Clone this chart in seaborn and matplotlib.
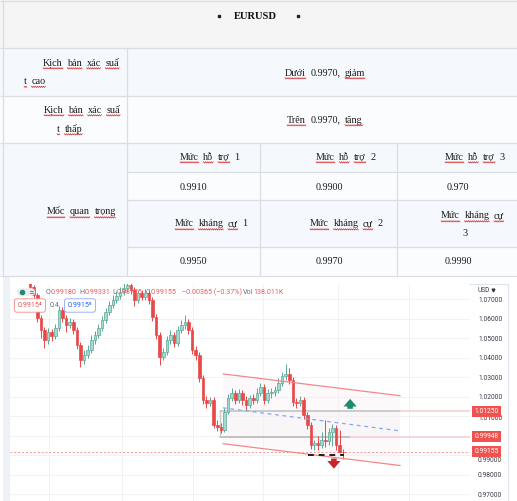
import numpy as np
import pandas as pd
import matplotlib
matplotlib.use("Agg")
import matplotlib.pyplot as plt
import seaborn as sns
from matplotlib.patches import Rectangle, FancyBboxPatch, Polygon

# ------------------------------------------------------------------ data
title_text = "EURUSD"
high_label = ["Kịch bản xác suấ", "t cao"]
high_text = "Dưới 0.9970, giảm"
low_label = ["Kịch bản xác suấ", "t thấp"]
low_text = "Trên 0.9970, tăng"
key_label = "Mốc quan trọng"
support_names = ["Mức hỗ trợ 1", "Mức hỗ trợ 2", "Mức hỗ trợ 3"]
support_values = ["0.9910", "0.9900", "0.970"]
resist_names = ["Mức kháng cự 1", "Mức kháng cự 2", "Mức kháng cự"]
resist_values = ["0.9950", "0.9970", "0.9990"]

opens = [1.0787, 1.0761, 1.0720, 1.0603, 1.0541, 1.0490, 1.0531, 1.0511, 1.0552, 1.0644,
         1.0603, 1.0567, 1.0582, 1.0541, 1.0465, 1.0388, 1.0414, 1.0439, 1.0490, 1.0516,
         1.0552, 1.0593, 1.0634, 1.0669, 1.0695, 1.0715, 1.0736, 1.0756, 1.0772, 1.0746,
         1.0695, 1.0731, 1.0710, 1.0731, 1.0695, 1.0608, 1.0516, 1.0403, 1.0429, 1.0490,
         1.0516, 1.0475, 1.0541, 1.0567, 1.0582, 1.0541, 1.0439, 1.0414, 1.0296, 1.0183,
         1.0168, 1.0183, 1.0056, 1.0045, 1.0030, 1.0122, 1.0194, 1.0219, 1.0183, 1.0219,
         1.0183, 1.0158, 1.0194, 1.0183, 1.0219, 1.0250, 1.0183, 1.0219, 1.0224, 1.0235,
         1.0270, 1.0306, 1.0316, 1.0286, 1.0173, 1.0168, 1.0183, 1.0107, 1.0056, 0.9953,
         0.9963, 0.9953, 0.9979, 0.9974, 1.0020, 1.0040, 0.9953, 0.9918]
closes = [1.0761, 1.0720, 1.0603, 1.0541, 1.0490, 1.0531, 1.0511, 1.0552, 1.0644, 1.0603,
          1.0567, 1.0582, 1.0541, 1.0465, 1.0388, 1.0414, 1.0439, 1.0490, 1.0516, 1.0552,
          1.0593, 1.0634, 1.0669, 1.0695, 1.0715, 1.0736, 1.0756, 1.0772, 1.0746, 1.0695,
          1.0731, 1.0710, 1.0731, 1.0695, 1.0608, 1.0516, 1.0403, 1.0429, 1.0490, 1.0516,
          1.0475, 1.0541, 1.0567, 1.0582, 1.0541, 1.0439, 1.0414, 1.0296, 1.0183, 1.0168,
          1.0183, 1.0056, 1.0045, 1.0030, 1.0122, 1.0194, 1.0219, 1.0183, 1.0219, 1.0183,
          1.0158, 1.0194, 1.0183, 1.0219, 1.0250, 1.0183, 1.0219, 1.0224, 1.0235, 1.0270,
          1.0306, 1.0316, 1.0286, 1.0173, 1.0168, 1.0183, 1.0107, 1.0056, 0.9953, 0.9963,
          0.9953, 0.9979, 0.9974, 1.0020, 1.0040, 0.9953, 0.9918, 0.99155]
highs = [1.0802, 1.0772, 1.0731, 1.0618, 1.0557, 1.0552, 1.0547, 1.0572, 1.0664, 1.0659,
         1.0618, 1.0603, 1.0598, 1.0557, 1.0480, 1.0439, 1.0465, 1.0516, 1.0536, 1.0572,
         1.0613, 1.0654, 1.0690, 1.0720, 1.0741, 1.0761, 1.0782, 1.0792, 1.0782, 1.0761,
         1.0746, 1.0746, 1.0751, 1.0746, 1.0710, 1.0623, 1.0531, 1.0449, 1.0511, 1.0541,
         1.0531, 1.0562, 1.0593, 1.0618, 1.0598, 1.0557, 1.0460, 1.0429, 1.0311, 1.0204,
         1.0199, 1.0199, 1.0081, 1.0066, 1.0142, 1.0214, 1.0245, 1.0235, 1.0240, 1.0235,
         1.0204, 1.0209, 1.0214, 1.0245, 1.0270, 1.0265, 1.0240, 1.0245, 1.0255, 1.0296,
         1.0327, 1.0368, 1.0347, 1.0301, 1.0194, 1.0204, 1.0199, 1.0122, 1.0071, 0.9979,
         0.9999, 1.0020, 1.0081, 1.0040, 1.0061, 1.0056, 1.0030, 0.99331]
lows = [1.0746, 1.0705, 1.0582, 1.0501, 1.0449, 1.0470, 1.0485, 1.0495, 1.0536, 1.0582,
        1.0531, 1.0552, 1.0521, 1.0444, 1.0352, 1.0368, 1.0398, 1.0424, 1.0470, 1.0501,
        1.0536, 1.0577, 1.0618, 1.0654, 1.0680, 1.0700, 1.0720, 1.0736, 1.0726, 1.0664,
        1.0680, 1.0695, 1.0695, 1.0674, 1.0587, 1.0495, 1.0362, 1.0388, 1.0414, 1.0470,
        1.0454, 1.0460, 1.0526, 1.0547, 1.0521, 1.0419, 1.0388, 1.0275, 1.0163, 1.0142,
        1.0153, 1.0040, 1.0025, 1.0015, 1.0020, 1.0112, 1.0178, 1.0163, 1.0168, 1.0158,
        1.0132, 1.0142, 1.0163, 1.0168, 1.0204, 1.0163, 1.0168, 1.0194, 1.0204, 1.0219,
        1.0255, 1.0286, 1.0265, 1.0153, 1.0142, 1.0153, 1.0086, 1.0035, 0.9933, 0.9928,
        0.9928, 0.9938, 0.9943, 0.9953, 0.9948, 0.9928, 0.9912, 0.98775]

price_ticks = [1.07, 1.06, 1.05, 1.04, 1.03, 1.02, 1.01, 1.00, 0.99, 0.98, 0.97]
hidden_tick_labels = [1.00]               # covered by the 0.99948 tag in the reference
shifted_tick_labels = {1.01: -2.0, 0.99: -3.6}   # pushed below the price tags
time_grid = [5.3, 25.6, 45.3, 64.7, 85.6, 105.3]
label_prices = [1.0125, 0.99948, 0.99155]
channel_x = [53.6, 102.8]
channel_upper = [1.0316, 1.0204]
channel_lower = [0.9958, 0.9846]
mid_x = [53.6, 102.2]
mid_line = [1.0142, 1.0025]
range_top, range_bottom = 1.0125, 0.99948
range_x = [52.8, 102.8]
range_bottom_x_end = 88.9
support_dash_x = [77.2, 87.2]
support_dash_y = 0.9898
up_arrow = (88.9, 1.0137, 1.0188)
down_arrow = (84.4, 0.9882, 0.9830)
last_price = 0.99155
ohlc_header = [("O", "0.99180"), ("H", "0.99331"), ("L", "0.98775"), ("C", "0.99155")]
change_text = "−0.00365 (−0.37%)"
volume_text = "138.011K"

# ------------------------------------------------------------------ setup
sns.set_theme(style="white")
plt.rcParams['font.family'] = ['Roboto', 'DejaVu Sans']
SERIF = ['Liberation Serif', 'DejaVu Serif']

W, H = 517, 501
fig = plt.figure(figsize=(W / 100, H / 100), dpi=100)
fig.patch.set_facecolor('white')
bg = fig.add_axes([0, 0, 1, 1])
bg.set_xlim(0, W)
bg.set_ylim(H, 0)
bg.axis('off')
renderer = fig.canvas.get_renderer()

# ------------------------------------------------------------------ table
BLUE_BG = '#f5f8fc'
WHITE_BG = '#fbfcfe'
LINE = '#dadde2'
cells = [
    (0, 0, W, 48, '#f5f5f5'),
    (0, 48, W, 47.5, BLUE_BG),
    (0, 95.5, W, 47.5, WHITE_BG),
    (0, 143, 127, 133, BLUE_BG),
    (127, 143, W - 127, 29, BLUE_BG),
    (127, 172, W - 127, 28, WHITE_BG),
    (127, 200, W - 127, 47, BLUE_BG),
    (127, 247, W - 127, 29, WHITE_BG),
]
for x, y, w, h, c in cells:
    bg.add_patch(Rectangle((x, y), w, h, facecolor=c, edgecolor='none', zorder=0))

hl = [(1, 0, W), (48, 0, W), (95.5, 0, W), (143, 0, W), (172, 127, W),
      (200, 127, W), (247, 127, W), (276, 0, W)]
for y, x0, x1 in hl:
    bg.plot([x0, x1], [y, y], color=LINE, lw=0.9, zorder=1, solid_capstyle='butt')
vl = [(2.5, 0, 276), (127, 48, 276), (260, 143, 276), (397, 143, 276)]
for x, y0, y1 in vl:
    bg.plot([x, x], [y0, y1], color=LINE, lw=0.9, zorder=1, solid_capstyle='butt')


def words(x, y, s, size=7.3, gap=4.5, bold=False, color='#1a1a1a'):
    cx = x
    for w in s.split(' '):
        t = bg.text(cx, y, w, fontsize=size, family=SERIF, color=color,
                    fontweight='bold' if bold else 'normal', ha='left', va='baseline', zorder=3)
        bb = t.get_window_extent(renderer)
        wd = bb.width
        if any(ch.isalpha() for ch in w):
            xs = np.arange(cx, cx + wd + 0.5, 1.0)
            ys = y + 2.2 + (np.arange(len(xs)) % 2) * 1.3
            bg.plot(xs, ys, color='#d62828', lw=0.5, zorder=3)
        cx += wd + gap


# title
bg.plot([219, 298], [16, 16], ls='none', marker='s', ms=1.7, color='#222', zorder=3)
bg.text(255, 16, title_text, fontsize=7.6, family=SERIF, fontweight='bold',
        ha='center', va='center', color='#111', zorder=3)

words(43, 65.5, high_label[0])
words(24, 84, high_label[1])
words(285, 75.5, high_text)
words(44, 112.5, low_label[0])
words(57, 131.5, low_label[1])
words(287, 122.5, low_text)
words(47, 214.5, key_label)

for x, s in zip([180, 316, 445], support_names):
    words(x, 159.5, s)
for x, s in zip([180, 316, 447], support_values):
    words(x, 189.5, s)
for x, s in zip([175, 310], resist_names[:2]):
    words(x, 226.5, s)
words(441, 218.5, resist_names[2])
words(462, 235.5, "3")
for x, s in zip([180, 316, 445], resist_values):
    words(x, 264.5, s)

# chart frame decoration
bg.add_patch(Rectangle((2.5, 276.5), 7.5, H - 276.5, facecolor='#eef1f6', edgecolor='none', zorder=0))
bg.plot([10, 508], [284, 284], color='#e0e3eb', lw=0.8, zorder=1)
bg.plot([10, 10], [284, H], color='#d9dde6', lw=0.8, zorder=1)
bg.plot([508, 508], [284, H], color='#e0e3eb', lw=0.8, zorder=1)

# ------------------------------------------------------------------ chart
ax = fig.add_axes([10 / W, 0, 460 / W, 217 / H])
ax.set_facecolor('white')
ax.set_xlim(-5.56, 122.2)
ax.set_ylim(0.96642, 1.0777)

o = np.array(opens)
c = np.array(closes)
hi = np.array(highs)
lo = np.array(lows)
idx = np.arange(len(c))
up = c >= o
UP_FACE, UP_EDGE = '#a8d8cd', '#58a896'
DN = '#e84848'
ax.vlines(idx, lo, hi, colors=np.where(up, UP_EDGE, DN), lw=0.7, zorder=4)
body = np.maximum(np.abs(c - o), 0.00025)
ax.bar(idx, body, bottom=np.minimum(o, c), width=0.72,
       color=np.where(up, UP_FACE, DN), edgecolor=np.where(up, UP_EDGE, DN),
       linewidth=0.5, zorder=5)

# channel
ax.add_patch(Polygon([(channel_x[0], channel_upper[0]), (channel_x[1], channel_upper[1]),
                      (channel_x[1], channel_lower[1]), (channel_x[0], channel_lower[0])],
                     closed=True, facecolor='#fbe9ee', alpha=0.3, edgecolor='none', zorder=1))
sns.lineplot(x=channel_x, y=channel_upper, ax=ax, color='#f08a8a', lw=0.9, zorder=6, legend=False)
sns.lineplot(x=channel_x, y=channel_lower, ax=ax, color='#f08a8a', lw=0.9, zorder=6, legend=False)
sns.lineplot(x=mid_x, y=mid_line, ax=ax, color='#86a5f2', lw=0.9, zorder=6,
             linestyle=(0, (3, 3)), legend=False)

# range box
ax.add_patch(Rectangle((range_x[0], range_bottom), range_x[1] - range_x[0], range_top - range_bottom,
                       facecolor='#f3f3f3', alpha=0.3, edgecolor='none', zorder=1))
ax.plot(range_x, [range_top, range_top], color='#c8c8c8', lw=1.3, zorder=3)
ax.plot([range_x[0], range_bottom_x_end], [range_bottom, range_bottom], color='#bdbdbd', lw=1.3, zorder=3)
ax.plot([range_x[0], range_x[0]], [range_bottom, range_top], color='#c8c8c8', lw=1.0, zorder=3)
ax.plot([range_x[1], 122.2], [range_top, range_top], color='#f3cfcf', lw=1.1, zorder=3)
ax.plot([range_bottom_x_end, 122.2], [range_bottom, range_bottom], color='#f3cfcf', lw=1.1, zorder=3)

ax.axhline(last_price, color='#f39a9a', lw=0.7, ls=(0, (2, 2)), zorder=3)
ax.plot(support_dash_x, [support_dash_y] * 2, color='#1e1e1e', lw=1.4, ls=(0, (3, 2.5)), zorder=7)

ax.annotate('', xy=(up_arrow[0], up_arrow[2]), xytext=(up_arrow[0], up_arrow[1]),
            arrowprops=dict(arrowstyle='simple,head_length=0.55,head_width=0.95,tail_width=0.4',
                            fc='#1e8a6e', ec='none', shrinkA=0, shrinkB=0, mutation_scale=10),
            zorder=8)
ax.annotate('', xy=(down_arrow[0], down_arrow[2]), xytext=(down_arrow[0], down_arrow[1]),
            arrowprops=dict(arrowstyle='simple,head_length=0.55,head_width=0.95,tail_width=0.4',
                            fc='#c62828', ec='none', shrinkA=0, shrinkB=0, mutation_scale=10),
            zorder=8, annotation_clip=False)

# axes styling
def _hidden(t):
    return any(abs(t - h) < 1e-9 for h in hidden_tick_labels + list(shifted_tick_labels))

ax.set_xticks(time_grid)
ax.set_xticklabels([])
ax.set_yticks(price_ticks)
ax.set_yticklabels([("" if _hidden(t) else f"{t:.5f}") for t in price_ticks])
ax.yaxis.tick_right()
ax.tick_params(axis='both', length=0)
ax.tick_params(axis='y', pad=5.8, labelsize=4.8, labelcolor='#363a45')
ax.grid(True, color='#f0f2f6', lw=0.7)
ax.set_axisbelow(True)
for sp in ax.spines.values():
    sp.set_visible(False)

for t, dy in shifted_tick_labels.items():
    ax.annotate(f"{t:.5f}", xy=(1, t), xycoords=('axes fraction', 'data'), xytext=(5.8, dy),
                textcoords='offset points', ha='left', va='center', fontsize=4.8, color='#363a45',
                annotation_clip=False, zorder=9)
for p in label_prices:
    ax.annotate(f"{p:.5f}", xy=(1, p), xycoords=('axes fraction', 'data'), xytext=(3.2, 0),
                textcoords='offset points', ha='left', va='center', fontsize=4.8, color='white',
                bbox=dict(boxstyle='square,pad=0.3', fc='#ef5350', ec='none'),
                annotation_clip=False, zorder=10)

# ------------------------------------------------------------------ overlay (header of chart)
ov = fig.add_axes([0, 0, 1, 1], zorder=20)
ov.set_xlim(0, W)
ov.set_ylim(H, 0)
ov.axis('off')
ov.patch.set_visible(False)

ov.add_patch(FancyBboxPatch((17, 288.3), 18, 7.4, boxstyle='round,pad=0,rounding_size=3.5',
                            fc='#e9ecf1', ec='none'))
ov.plot([22], [292], marker='o', ms=3, color='#1e8a6e', ls='none')
ov.plot([30, 33], [290.7, 290.7], color='#e05050', lw=0.7)
ov.plot([30, 33], [293.3, 293.3], color='#e05050', lw=0.7)

HDR = 5.1
GRAY = '#6b6f7a'
RED = '#ef5a5a'
for x, (lab, val) in zip([45.7, 79, 112, 146], ohlc_header):
    t = ov.text(x, 292, lab, fontsize=HDR, color=GRAY, ha='left', va='center')
    wd = t.get_window_extent(renderer).width
    ov.text(x + wd + 0.3, 292, val, fontsize=HDR, color=RED, ha='left', va='center')
ov.text(182, 292, change_text, fontsize=HDR, color=RED, ha='left', va='center')
t = ov.text(243, 292, "Vol", fontsize=HDR, color=GRAY, ha='left', va='center')
wd = t.get_window_extent(renderer).width
ov.text(243 + wd + 0.3, 292, volume_text, fontsize=HDR, color=RED, ha='left', va='center')

ov.text(30, 305.5, "0.9915⁴", fontsize=HDR, color='#e85555', ha='center', va='center',
        bbox=dict(boxstyle='round,pad=0.45,rounding_size=0.3', fc='white', ec='#f08a8a', lw=0.6))
ov.text(55, 305.5, "0.4", fontsize=HDR, color=GRAY, ha='center', va='center')
ov.text(80, 305.5, "0.9915⁸", fontsize=HDR, color='#2962ff', ha='center', va='center',
        bbox=dict(boxstyle='round,pad=0.45,rounding_size=0.3', fc='white', ec='#8aa8f8', lw=0.6))

ov.text(478, 290.5, "USD", fontsize=4.8, color='#363a45', ha='left', va='center')
ov.plot([493], [290.3], marker='v', ms=2, color='#363a45', ls='none')

fig.savefig("out.png", dpi=100, facecolor='white')
